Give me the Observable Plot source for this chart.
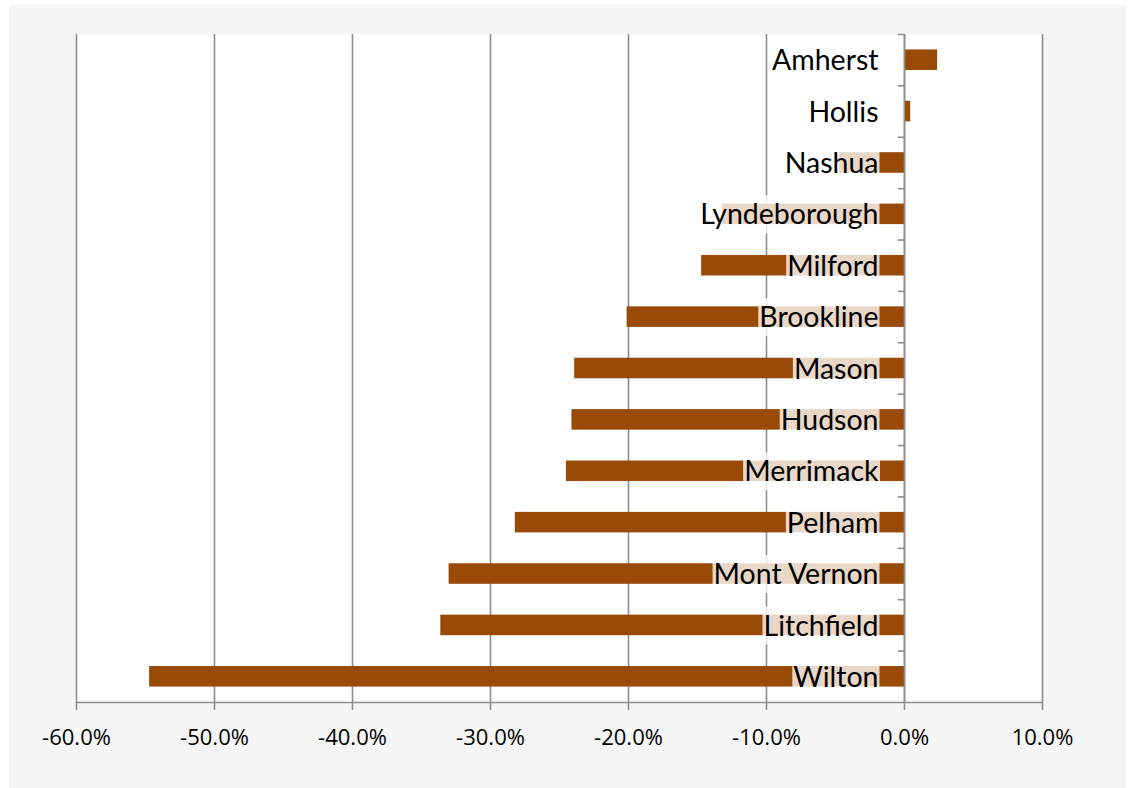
<!DOCTYPE html>
<html>
<head>
<meta charset="utf-8">
<script src="https://cdn.jsdelivr.net/npm/d3@7"></script>
<script src="https://cdn.jsdelivr.net/npm/@observablehq/plot@0.6"></script>
<style>
  body { margin: 0; background: #ffffff; }
  #chart { position: absolute; left: 9px; top: 5px; width: 1117px; height: 783px; background: #f5f5f5; }
</style>
</head>
<body>
<div id="chart"></div>
<script>
// Towns, top to bottom
const towns = ["Amherst", "Hollis", "Nashua", "Lyndeborough", "Milford", "Brookline", "Mason",
  "Hudson", "Merrimack", "Pelham", "Mont Vernon", "Litchfield", "Wilton"];
// Percent change per town (as fractions)
const change = [0.024, 0.0045, -0.047, -0.132, -0.147, -0.201, -0.239,
  -0.241, -0.245, -0.282, -0.330, -0.336, -0.547];
// Axis ticks
const xTicks = [-0.6, -0.5, -0.4, -0.3, -0.2, -0.1, 0, 0.1];

const rows = towns.map((town, i) => ({town, value: change[i]}));

const W = 1117, H = 783;
const M = {top: 29, right: 84, bottom: 86, left: 67};
const step = (H - M.top - M.bottom) / towns.length;
const gridColor = "#8e8e8e";
const barColor = "#994a07";
const labelDy = 1;

const chart = Plot.plot({
  width: W,
  height: H,
  marginTop: M.top,
  marginRight: M.right,
  marginBottom: M.bottom,
  marginLeft: M.left,
  style: {background: "#f5f5f5", fontFamily: "'Open Sans', sans-serif", overflow: "visible"},
  x: {domain: [-0.6, 0.1]},
  y: {domain: towns, paddingInner: 0.6, paddingOuter: 0.3, round: false, axis: null},
  marks: [
    Plot.frame({fill: "white", stroke: null}),
    // vertical gridlines
    Plot.ruleX(xTicks, {stroke: gridColor, strokeWidth: 1.6}),
    // bars
    Plot.barX(rows, {x: "value", y: "town", fill: barColor}),
    // town labels at the base of each bar
    Plot.text(rows, {
      x: () => 0, y: "town", text: "town", textAnchor: "end",
      dx: -26, dy: labelDy, fontSize: 28.5, fill: "black", fontWeight: 400,
      fontFamily: "Lato, 'Open Sans', sans-serif"
    }),
    // zero axis with category boundary ticks
    Plot.ruleX([0], {stroke: gridColor, strokeWidth: 1.6}),
    Plot.ruleY(towns, {y: d => d, x1: () => -0.0045, x2: () => 0, dy: -step / 2, stroke: gridColor, strokeWidth: 1.6}),
    // bottom axis line
    Plot.ruleY([towns[towns.length - 1]], {dy: step / 2, stroke: gridColor, strokeWidth: 1.6}),
    Plot.axisX(xTicks, {
      tickSize: 8, tickPadding: 19, stroke: gridColor, strokeWidth: 1.6, fill: "black",
      fontSize: 22, tickFormat: d => (d * 100).toFixed(1) + "%", label: null
    })
  ]
});

document.getElementById("chart").appendChild(chart);

// Translucent white backing behind each town label
const labelTexts = chart.querySelectorAll('g[aria-label="text"] text');
labelTexts.forEach(t => {
  const b = t.getBBox();
  const r = document.createElementNS("http://www.w3.org/2000/svg", "rect");
  r.setAttribute("x", b.x - 1);
  r.setAttribute("y", -19 - labelDy);
  r.setAttribute("width", b.width + 2);
  r.setAttribute("height", 38);
  r.setAttribute("fill", "white");
  r.setAttribute("fill-opacity", 0.78);
  const tr = t.getAttribute("transform");
  if (tr) r.setAttribute("transform", tr);
  t.parentNode.insertBefore(r, t);
});
</script>
</body>
</html>
